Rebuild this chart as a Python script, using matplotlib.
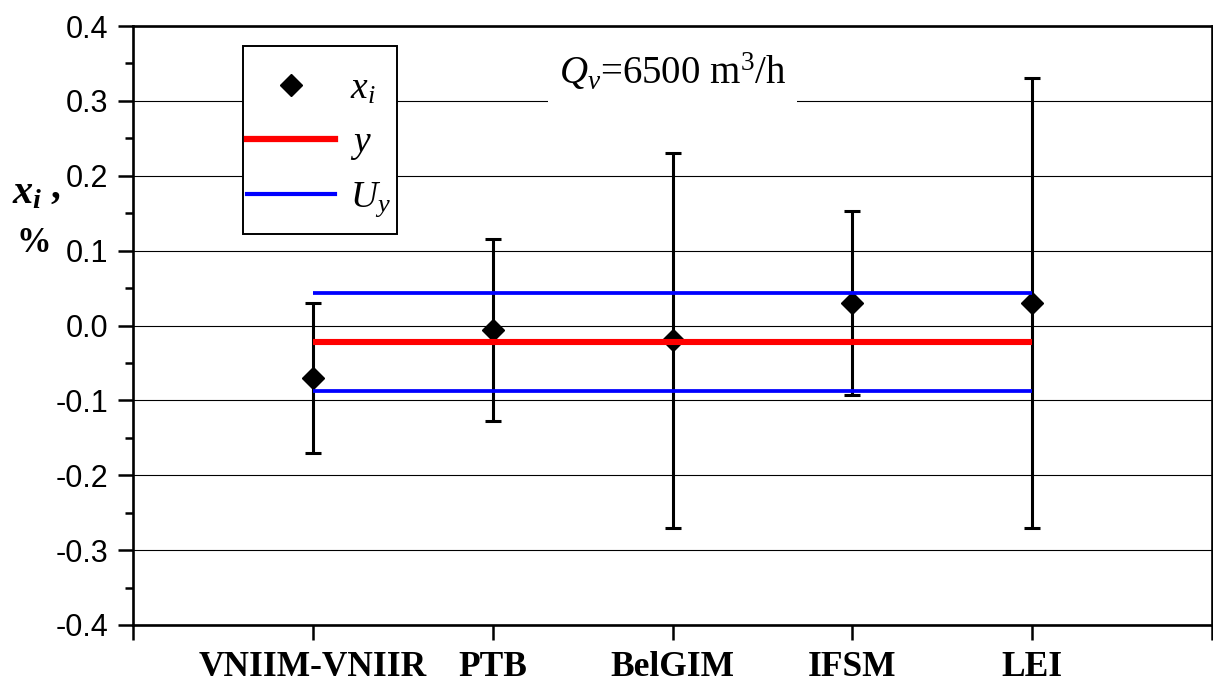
import matplotlib
matplotlib.use("Agg")
import matplotlib.pyplot as plt
from matplotlib.lines import Line2D
from matplotlib.patches import Rectangle
from matplotlib.ticker import MultipleLocator, FixedLocator, FixedFormatter

plt.rcParams['mathtext.fontset'] = 'custom'
plt.rcParams['mathtext.rm'] = 'Liberation Serif'
plt.rcParams['mathtext.it'] = 'Liberation Serif:italic'
plt.rcParams['mathtext.bf'] = 'Liberation Serif:italic:bold'
plt.rcParams['axes.unicode_minus'] = False

# ---- data ----
labs = ['VNIIM-VNIIR', 'PTB', 'BelGIM', 'IFSM', 'LEI']
xi = [-0.07, -0.006, -0.02, 0.03, 0.03]
Ui = [0.10, 0.121, 0.25, 0.123, 0.30]
y_ref = -0.022
U_ref = 0.065
yticks = [-0.4, -0.3, -0.2, -0.1, 0.0, 0.1, 0.2, 0.3, 0.4]
ytick_labels = ['-0.4', '-0.3', '-0.2', '-0.1', '0.0', '0.1', '0.2', '0.3', '0.4']

pos = list(range(1, len(labs) + 1))

W, H = 1213, 684
fig = plt.figure(figsize=(W / 100, H / 100), dpi=100)
ax = fig.add_axes([133/W, 59/H, 1079/W, 599/H])

ax.set_xlim(0, len(labs) + 1)
ax.set_ylim(-0.4, 0.4)

# gridlines
ax.yaxis.grid(True, color='black', linewidth=0.8, zorder=0)
ax.set_axisbelow(True)

ax.errorbar(pos, xi, yerr=Ui, fmt='D', color='black', markersize=11,
            ecolor='black', elinewidth=2.2, capsize=6, capthick=2.2, zorder=3)

ax.hlines(y_ref, pos[0], pos[-1], color='#ff0000', linewidth=4.4, zorder=4)
ax.hlines([y_ref + U_ref, y_ref - U_ref], pos[0], pos[-1], color='#0000ff', linewidth=2.7, zorder=4)

# ticks
ax.yaxis.set_major_locator(FixedLocator(yticks))
ax.yaxis.set_major_formatter(FixedFormatter(ytick_labels))
ax.yaxis.set_minor_locator(MultipleLocator(0.05))
ax.xaxis.set_major_locator(FixedLocator(list(range(0, len(labs) + 2))))
ax.xaxis.set_major_formatter(FixedFormatter([''] + labs + ['']))
ax.tick_params(axis='y', which='major', direction='out', length=11, width=1.8, pad=7,
               labelsize=22, right=False)
ax.tick_params(axis='y', which='minor', direction='out', length=6, width=1.8, right=False)
ax.tick_params(axis='x', which='major', direction='out', length=11, width=1.8, pad=8, top=False)
for t in ax.get_yticklabels():
    t.set_fontfamily('Liberation Sans')
for t in ax.get_xticklabels():
    t.set_fontfamily('Liberation Serif')
    t.set_fontweight('bold')
    t.set_fontsize(25.5)
for s in ax.spines.values():
    s.set_linewidth(1.9)

# annotation
ax.text(3.0, 0.338, r'$Q_v$=6500 m$^3$/h', ha='center', va='center',
        fontsize=28, fontfamily='Liberation Serif',
        bbox=dict(facecolor='white', edgecolor='none', pad=8), zorder=5)

# legend frame
frame = Rectangle((243/W, 1 - 234/H), (397-243)/W, (234-46)/H, transform=fig.transFigure,
                  facecolor='white', edgecolor='black', linewidth=1.4, zorder=6)
fig.add_artist(frame)

handles = [Line2D([], [], marker='D', color='black', linestyle='none', markersize=11),
           Line2D([], [], color='#ff0000', linewidth=4.5),
           Line2D([], [], color='#0000ff', linewidth=3)]
leg = fig.legend(handles, [r'$x_i$', r'$y$', r'$U_y$'], loc='upper left',
                 bbox_to_anchor=(247/W, 1 - 72/H),
                 prop={'family': 'Liberation Serif', 'size': 27},
                 frameon=False, borderpad=0, handlelength=2.35, handletextpad=0.4,
                 labelspacing=0.5, borderaxespad=0)
leg.set_zorder(7)

# y-axis label
fig.text(12/W, 1 - 192/H, r'$\mathbf{x_i}$', fontsize=29, ha='left', va='center')
fig.text(50/W, 1 - 188/H, ',', fontsize=28, fontweight='bold',
         fontfamily='Liberation Serif', ha='left', va='center')
fig.text(17/W, 1 - 244/H, '%', fontsize=25, fontweight='bold',
         fontfamily='Liberation Serif', ha='left', va='center')

fig.savefig('out.png', dpi=100)
